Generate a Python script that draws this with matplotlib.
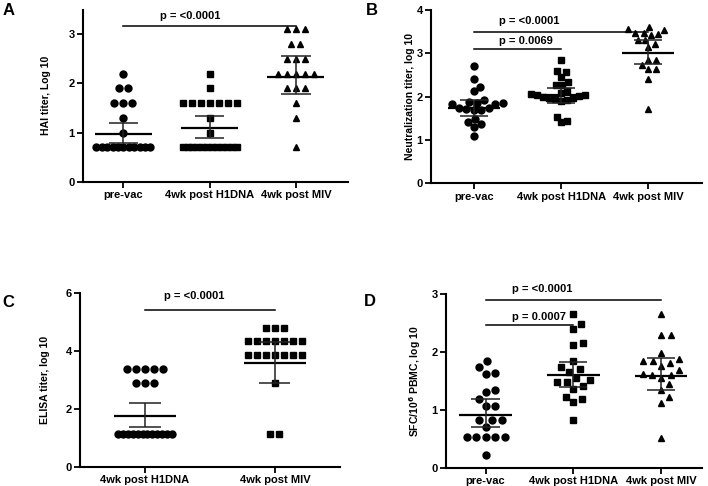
import matplotlib
matplotlib.use("Agg")
import matplotlib.pyplot as plt
import numpy as np

plt.rcParams['font.family'] = ['Liberation Sans', 'DejaVu Sans']
plt.rcParams['font.weight'] = 'bold'
plt.rcParams['axes.labelweight'] = 'bold'

groups3 = ['pre-vac', '4wk post H1DNA', '4wk post MIV']
groups2 = ['4wk post H1DNA', '4wk post MIV']

# A - HAI titer
hai_prevac = [2.2, 1.9, 1.9, 1.6, 1.6, 1.6, 1.3, 1.0,
              0.7, 0.7, 0.7, 0.7, 0.7, 0.7, 0.7, 0.7, 0.7, 0.7, 0.7]
hai_h1dna = [2.2, 1.9, 1.6, 1.6, 1.6, 1.6, 1.6, 1.6, 1.6, 1.3, 1.0,
             0.7, 0.7, 0.7, 0.7, 0.7, 0.7, 0.7, 0.7, 0.7, 0.7, 0.7, 0.7]
hai_miv = [3.1, 3.1, 3.1, 2.8, 2.8, 2.5, 2.5, 2.5, 2.2, 2.2, 2.2, 2.2, 2.2,
           1.9, 1.9, 1.9, 1.6, 1.3, 0.7]
hai_mean = [0.97, 1.09, 2.14]
hai_lo = [0.78, 0.89, 1.78]
hai_hi = [1.2, 1.34, 2.56]

# B - neutralization titer
neu_prevac = [2.72, 2.42, 2.23, 2.13, 1.92, 1.88, 1.86, 1.85, 1.82, 1.82,
              1.75, 1.75, 1.71, 1.70, 1.69, 1.49, 1.41, 1.37, 1.30, 1.09]
neu_h1dna = [2.86, 2.60, 2.57, 2.46, 2.33, 2.27, 2.26, 2.14, 2.09, 2.06, 2.04,
             2.01, 1.98, 1.96, 1.93, 1.91, 1.94, 1.99, 2.03, 1.53, 1.45, 1.41]
neu_miv = [3.61, 3.56, 3.55, 3.48, 3.48, 3.45, 3.43, 3.32, 3.31, 3.23, 3.15,
           2.84, 2.84, 2.73, 2.65, 2.65, 2.42, 1.72]
neu_mean = [1.74, 2.03, 3.02]
neu_lo = [1.56, 1.86, 2.75]
neu_hi = [1.92, 2.21, 3.31]

# C - ELISA titer
eli_h1dna = [3.38, 3.38, 3.38, 3.38, 3.38, 2.9, 2.9, 2.9,
             1.15, 1.15, 1.15, 1.15, 1.15, 1.15, 1.15, 1.15, 1.15, 1.15, 1.15, 1.15]
eli_miv = [4.8, 4.8, 4.8, 4.33, 4.33, 4.33, 4.33, 4.33, 4.33, 4.33,
           3.86, 3.86, 3.86, 3.86, 3.86, 3.86, 3.86, 2.9, 1.15, 1.15]
eli_mean = [1.75, 3.59]
eli_lo = [1.38, 2.9]
eli_hi = [2.2, 4.31]

# D - SFC / 10^6 PBMC
sfc_prevac = [1.84, 1.74, 1.64, 1.62, 1.34, 1.31, 1.19, 1.07, 1.07, 0.83,
              0.83, 0.83, 0.71, 0.53, 0.53, 0.53, 0.53, 0.53, 0.22]
sfc_h1dna = [2.66, 2.48, 2.39, 2.16, 2.12, 1.84, 1.75, 1.70, 1.66, 1.55,
             1.51, 1.49, 1.49, 1.41, 1.37, 1.23, 1.19, 1.13, 0.83]
sfc_miv = [2.66, 2.29, 2.29, 1.98, 1.88, 1.84, 1.84, 1.81, 1.76, 1.69,
           1.62, 1.61, 1.61, 1.55, 1.45, 1.35, 1.22, 1.12, 0.52]
sfc_mean = [0.91, 1.61, 1.59]
sfc_lo = [0.71, 1.39, 1.35]
sfc_hi = [1.19, 1.83, 1.9]

fig = plt.figure(figsize=(7.08, 4.86), dpi=100)


def px_per_unit(ax):
    p0 = ax.transData.transform((0, 0))
    p1 = ax.transData.transform((1, 1))
    return p1[0] - p0[0], p1[1] - p0[1]


def row_offsets(vals, step, maxw):
    # equal values side by side, squeezed when the row gets too wide
    vals = np.asarray(vals)
    off = np.zeros(len(vals))
    for v in np.unique(vals):
        idx = np.where(vals == v)[0]
        n = len(idx)
        if n > 1:
            s = min(step, maxw / (n - 1))
            off[idx] = (np.arange(n) - (n - 1) / 2) * s
    return off


def swarm_offsets(ypx, d, maxhalf):
    xs = np.zeros(len(ypx))
    placed = []
    for i in np.argsort(ypx):
        y = ypx[i]
        cands = [0.0]
        for xj, yj in placed:
            dy = abs(y - yj)
            if dy < d:
                dx = np.sqrt(d * d - dy * dy)
                cands += [xj + dx, xj - dx]
        cands.sort(key=abs)
        for c in cands:
            if all((c - xj) ** 2 + (y - yj) ** 2 >= d * d - 1e-6 for xj, yj in placed):
                xs[i] = c
                break
        placed.append((xs[i], y))
    m = np.abs(xs).max()
    if m > maxhalf:
        xs = xs * maxhalf / m
    return xs


def panel(rect, data, labels, markers, sizes, mean, lo, hi, ylim, yticks,
          ylabel, xlim, mhw, chw, mode, lab_x, d=7.5, maxhalf=27):
    ax = fig.add_axes(rect)
    ax.set_xlim(xlim)
    ax.set_ylim(ylim)
    ux, uy = px_per_unit(ax)
    for i, vals in enumerate(data):
        if mode == 'rows':
            off = row_offsets(vals, 9.0, 54.0) / ux
        else:
            off = swarm_offsets(np.asarray(vals) * uy, d, maxhalf) / ux
        ax.plot(i + off, vals, ls='none', marker=markers[i], ms=sizes[i],
                color='black', zorder=2)
        ax.hlines(mean[i], i - mhw, i + mhw, color='black', lw=1.6, zorder=3)
        ax.vlines(i, lo[i], hi[i], color='#222222', lw=1.1, zorder=3)
        ax.hlines([lo[i], hi[i]], i - chw, i + chw, color='#222222', lw=1.1, zorder=3)
    ax.set_xticks(range(len(labels)))
    ax.set_xticklabels(labels, fontsize=8, fontweight='bold')
    ax.set_yticks(yticks)
    ax.set_yticklabels([str(t) for t in yticks], fontsize=8, fontweight='bold')
    ax.set_ylabel(ylabel, fontsize=7.5, fontweight='bold')
    ax.yaxis.set_label_coords(lab_x, 0.5)
    for s in ['top', 'right']:
        ax.spines[s].set_visible(False)
    for s in ['left', 'bottom']:
        ax.spines[s].set_linewidth(1.5)
    ax.tick_params(axis='both', width=1.3, length=4, pad=2)
    return ax


def sig(ax, x0, x1, y, tx, ty, text):
    ax.plot([x0, x1], [y, y], color='black', lw=1.1, clip_on=False)
    ax.text(tx, ty, text, ha='left', va='center', fontsize=8,
            fontweight='bold', clip_on=False)


axA = panel([0.117, 0.626, 0.374, 0.354], [hai_prevac, hai_h1dna, hai_miv],
            groups3, ['o', 's', '^'], [5.0, 4.6, 5.0], hai_mean, hai_lo, hai_hi,
            (0, 3.5), [0, 1, 2, 3], 'HAI titer, Log 10', (-0.47, 2.6),
            0.33, 0.17, 'rows', -0.12)
sig(axA, 0, 2, 3.17, 0.43, 3.37, 'p = <0.0001')

axB = panel([0.609, 0.623, 0.383, 0.356], [neu_prevac, neu_h1dna, neu_miv],
            groups3, ['o', 's', '^'], [5.0, 4.6, 5.0], neu_mean, neu_lo, neu_hi,
            (0, 4), [0, 1, 2, 3, 4], 'Neutralization titer, log 10', (-0.49, 2.62),
            0.3, 0.16, 'swarm', -0.06, 7.5, 30)
sig(axB, 0, 2, 3.5, 0.29, 3.75, 'p = <0.0001')
sig(axB, 0, 1, 3.1, 0.29, 3.29, 'p = 0.0069')

axC = panel([0.113, 0.039, 0.367, 0.358], [eli_h1dna, eli_miv],
            groups2, ['o', 's'], [5.0, 4.6], eli_mean, eli_lo, eli_hi,
            (0, 6), [0, 2, 4, 6], 'ELISA titer, log 10', (-0.5, 1.5),
            0.24, 0.12, 'rows', -0.115)
sig(axC, 0, 1, 5.43, 0.15, 5.89, 'p = <0.0001')

axD = panel([0.630, 0.037, 0.362, 0.358], [sfc_prevac, sfc_h1dna, sfc_miv],
            groups3, ['o', 's', '^'], [5.0, 4.6, 5.0], sfc_mean, sfc_lo, sfc_hi,
            (0, 3), [0, 1, 2, 3], 'SFC/10$^6$ PBMC, log 10', (-0.45, 2.47),
            0.3, 0.16, 'swarm', -0.09, 9.5, 31)
sig(axD, 0, 2, 2.9, 0.3, 3.09, 'p = <0.0001')
sig(axD, 0, 1, 2.46, 0.3, 2.6, 'p = 0.0007')

for x, y, t in [(3, 3, 'A'), (366, 3, 'B'), (2, 295, 'C'), (364, 294, 'D')]:
    fig.text(x / 708, 1 - y / 486, t, ha='left', va='top', fontsize=12,
             fontweight='bold')

fig.savefig('out.png', dpi=100)
